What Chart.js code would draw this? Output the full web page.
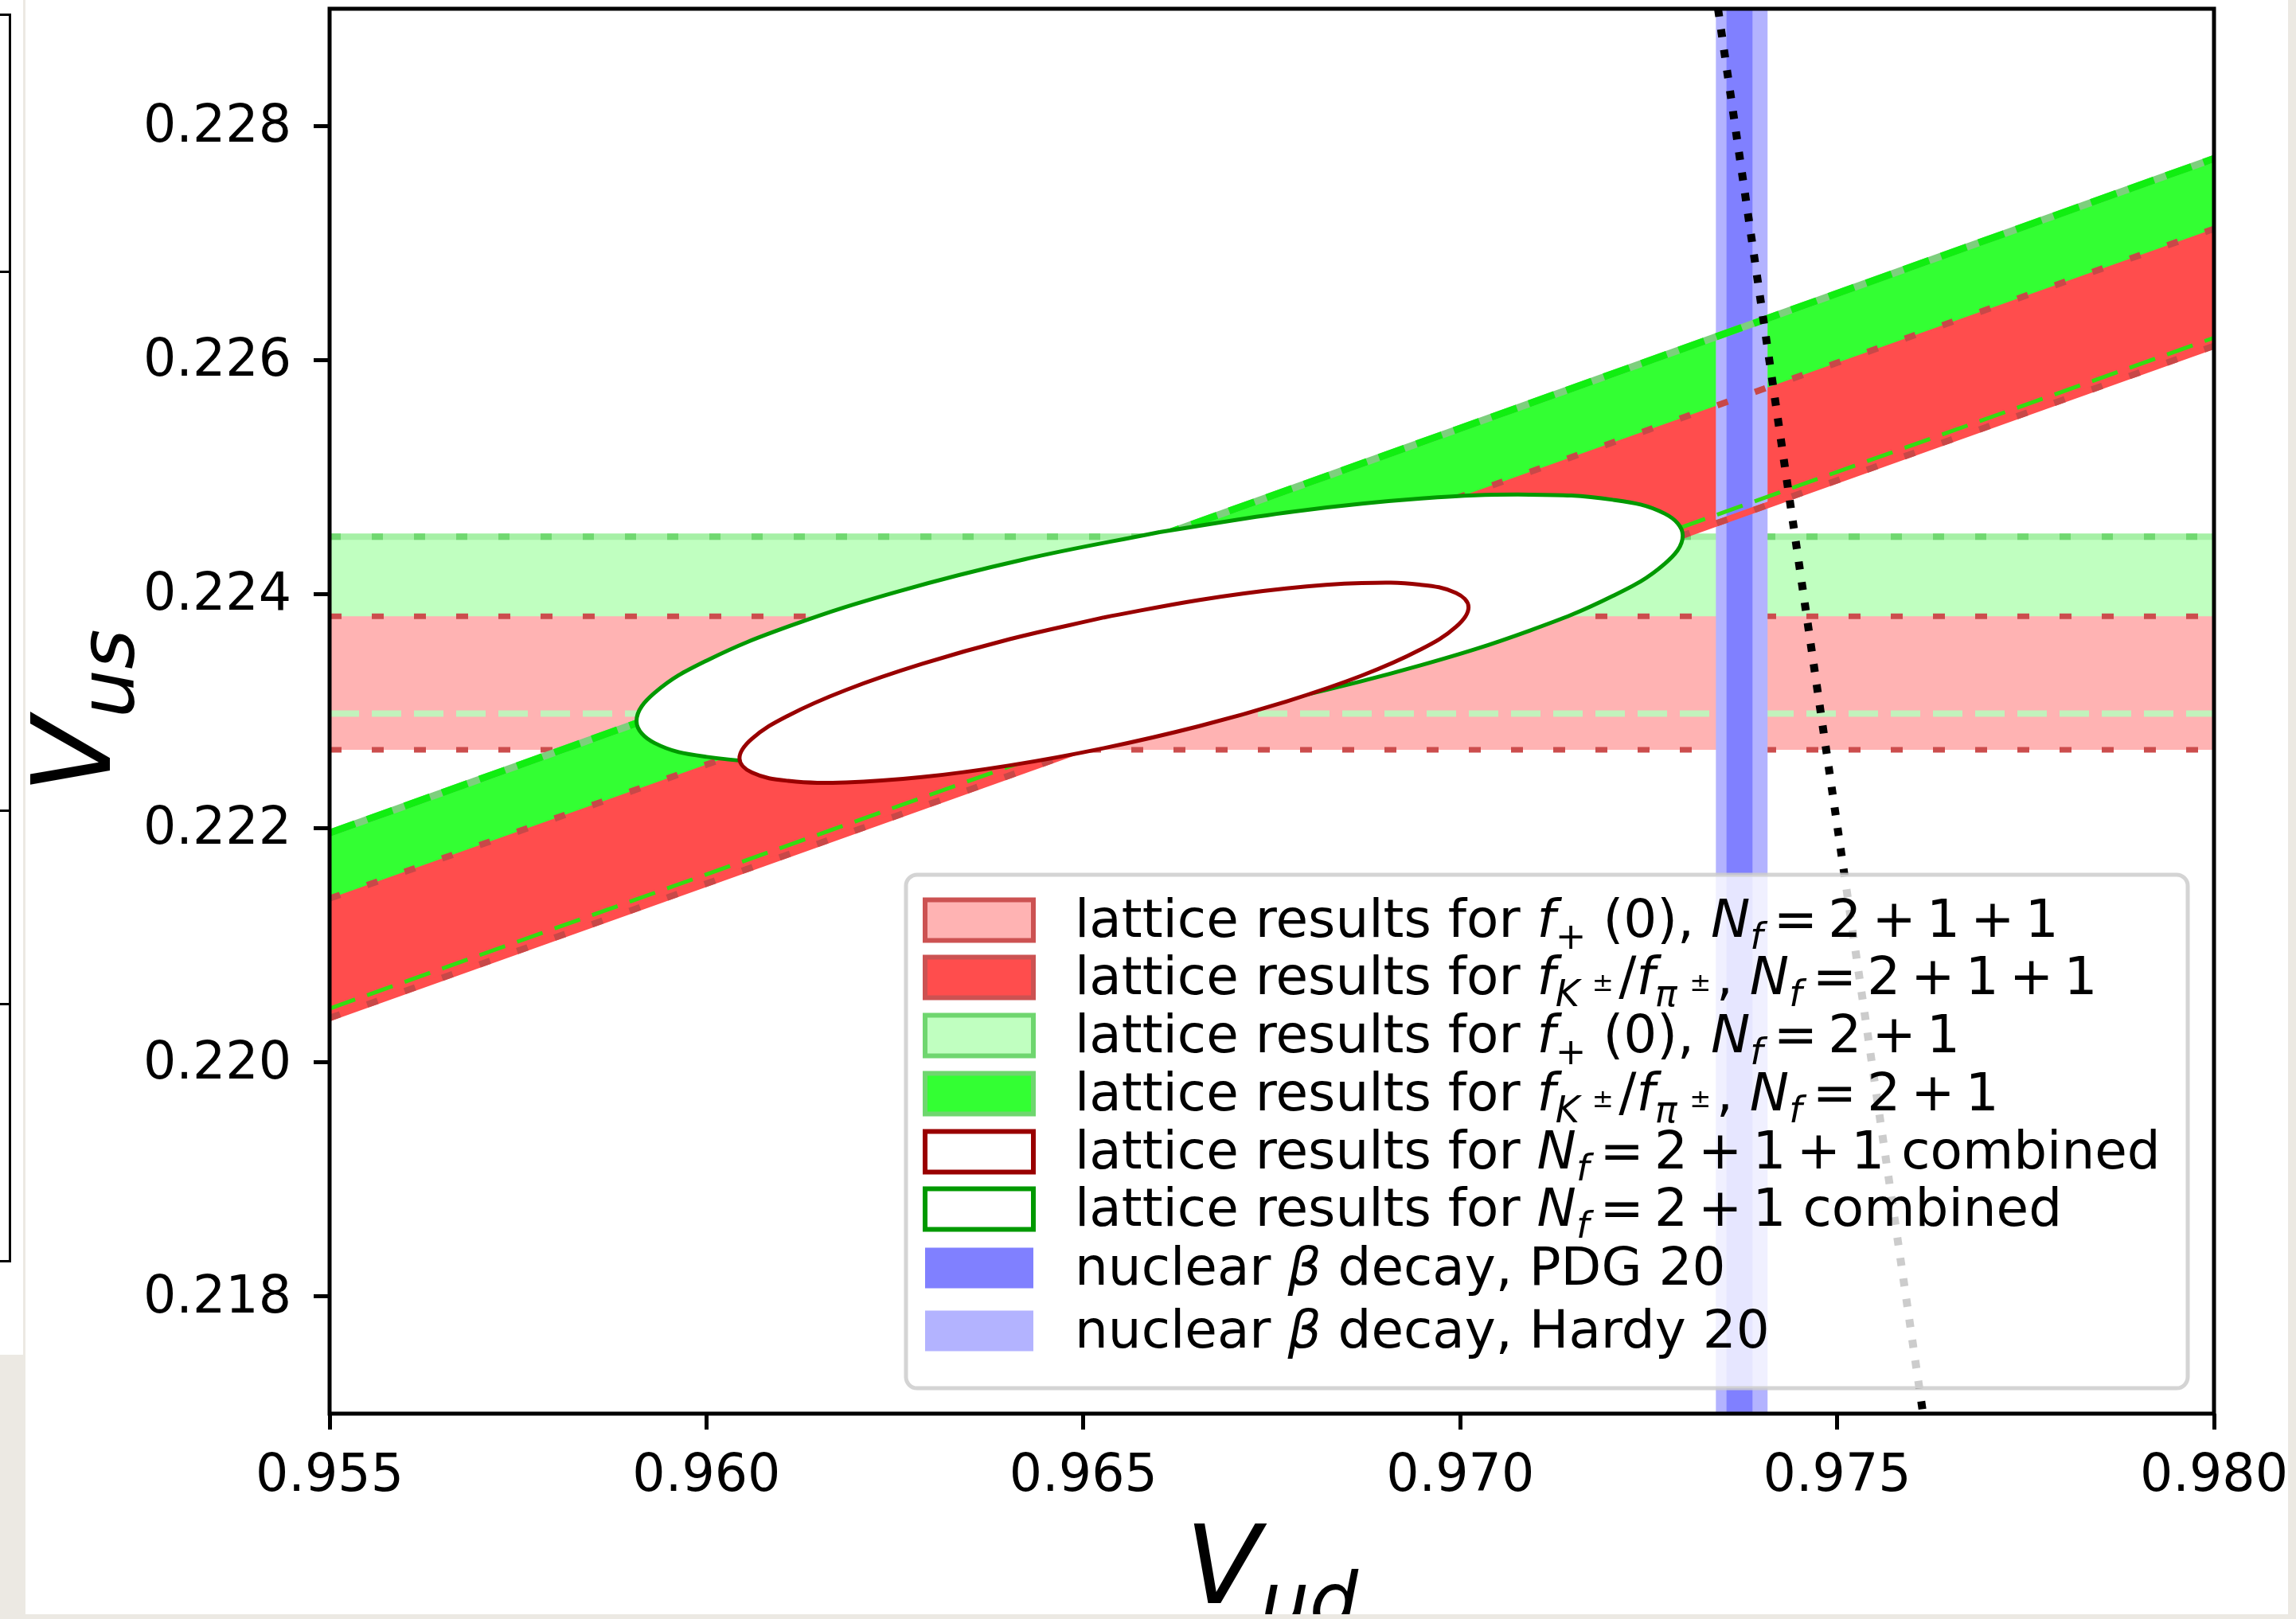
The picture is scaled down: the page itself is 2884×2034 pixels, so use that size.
<!DOCTYPE html>
<html><head><meta charset="utf-8">
<script src="https://cdn.jsdelivr.net/npm/chart.js@4.4.1/dist/chart.umd.min.js"></script>
<style>
html,body{margin:0;padding:0;}
body{width:2884px;height:2034px;background:#ece9e3;position:relative;overflow:hidden;}
#c{position:absolute;left:32px;top:0;background:#fff;}
#side{position:absolute;left:0;top:0;width:29px;height:1702px;background:#fff;}
.ln{position:absolute;background:#000;}
.bg{position:absolute;background:#ece9e3;}
</style></head><body>
<div id="side">
  <div class="ln" style="left:11px;top:17px;width:3px;height:1569px"></div>
  <div class="ln" style="left:0;top:17px;width:14px;height:3px"></div>
  <div class="ln" style="left:0;top:340px;width:14px;height:3px"></div>
  <div class="ln" style="left:0;top:1017px;width:14px;height:3px"></div>
  <div class="ln" style="left:0;top:1260px;width:14px;height:3px"></div>
  <div class="ln" style="left:0;top:1583px;width:14px;height:3px"></div>
</div>
<canvas id="c" width="2852" height="2034" style="width:2852px;height:2034px"></canvas>
<div class="bg" style="left:2874px;top:0;width:10px;height:2034px"></div>
<div class="bg" style="left:0;top:2028px;width:2884px;height:6px"></div>
<script>
// ---------------- data ----------------
const xTicks = [0.955, 0.960, 0.965, 0.970, 0.975, 0.980];
const yTicks = [0.218, 0.220, 0.222, 0.224, 0.226, 0.228];
const vudRange = [0.955, 0.980];
const vusRange = [0.217, 0.229];

// horizontal bands from f+(0): [lower, upper] Vus
const fplus211 = [0.22267, 0.22381];
const fplus21  = [0.22298, 0.22449];

// diagonal bands from fK/fpi: Vus at Vud = 0.955 and 0.980
const fkfpi211Lower = [0.22038, 0.22612];
const fkfpi211Upper = [0.22140, 0.22712];
const fkfpi21Lower  = [0.22046, 0.22619];
const fkfpi21Upper  = [0.22196, 0.22772];

// nuclear beta decay Vud bands [lower, upper]
const pdg20   = [0.97353, 0.97388];
const hardy20 = [0.97339, 0.97408];

// unitarity line end points
const unitVud = [0.97342, 0.97614];
const unitVus = [0.229, 0.217];

// combined Nf=2+1 contour (points read around the outline)
const ell21Vud = [0.966012,0.964216,0.962542,0.961105,0.960002,0.959309,0.959072,0.959309,0.960002,0.961105,0.962542,0.964216,0.966012,0.967808,0.969482,0.970919,0.972022,0.972715,0.972952,0.972715,0.972022,0.970919,0.969482,0.967808,0.966012];
const ell21Vus = [0.224530,0.224297,0.224023,0.223728,0.223432,0.223155,0.222915,0.222729,0.222610,0.222566,0.222599,0.222709,0.222886,0.223119,0.223393,0.223688,0.223984,0.224261,0.224501,0.224687,0.224806,0.224850,0.224817,0.224707,0.224530];
// combined Nf=2+1+1 contour
const ell211Vud = [0.965274,0.964022,0.962856,0.961854,0.961086,0.960603,0.960438,0.960603,0.961086,0.961854,0.962856,0.964022,0.965274,0.966526,0.967692,0.968694,0.969462,0.969945,0.970110,0.969945,0.969462,0.968694,0.967692,0.966526,0.965274];
const ell211Vus = [0.223801,0.223615,0.223403,0.223182,0.222963,0.222764,0.222598,0.222476,0.222405,0.222392,0.222437,0.222537,0.222685,0.222871,0.223083,0.223304,0.223523,0.223722,0.223888,0.224010,0.224081,0.224094,0.224049,0.223949,0.223801];

const legendLabels = [
  'lattice results for $f_{+}$ (0), $N_{f} = 2 + 1 + 1$',
  'lattice results for $f_{K ^{ ± }}/f_{π ^{ ± }}$, $N_{f} = 2 + 1 + 1$',
  'lattice results for $f_{+}$ (0), $N_{f} = 2 + 1$',
  'lattice results for $f_{K ^{ ± }}/f_{π ^{ ± }}$, $N_{f} = 2 + 1$',
  'lattice results for $N_{f} = 2 + 1 + 1$ combined',
  'lattice results for $N_{f} = 2 + 1$ combined',
  'nuclear $β$ decay, PDG 20',
  'nuclear $β$ decay, Hardy 20'
];
const xTitle = '$V_{ud}$';
const yTitle = '$V_{us}$';

// ---------------- styles ----------------
const FONT = 'DejaVu Sans';
const LEGEND_FONT = 66;
const LEGEND_STYLE = [
  {fill:'#ffb3b3', edge:'#cc5252'},
  {fill:'#ff4d4d', edge:'#cc5252'},
  {fill:'#c0ffc0', edge:'#6fd66f'},
  {fill:'#33ff33', edge:'#6fd66f'},
  {fill:'#ffffff', edge:'#990000'},
  {fill:'#ffffff', edge:'#009900'},
  {fill:'#8080ff', edge:null},
  {fill:'#b3b3ff', edge:null}
];
const LEGEND_ROWS = [57, 129, 202, 275, 348, 420, 494, 573];

// ---------------- helpers ----------------
const H = (y) => vudRange.map(x => ({x, y}));
const D = (ys) => vudRange.map((x, i) => ({x, y: ys[i]}));
const V = (xs) => xs.map(x => ({x, y: vusRange[1]}));
const P = (xs, ys) => xs.map((x, i) => ({x, y: ys[i]}));

const datasets = [];
let ord = 200;
function add(cfg) {
  datasets.push(Object.assign({
    pointRadius: 0, pointHoverRadius: 0, pointHitRadius: 0, tension: 0,
    borderWidth: 0, borderColor: 'rgba(0,0,0,0)', backgroundColor: 'rgba(0,0,0,0)',
    fill: false, clip: 0, borderCapStyle: 'butt', order: ord--
  }, cfg));
  return datasets.length - 1;
}
let lo;
// horizontal fills
lo = add({data: H(fplus21[0])});
add({data: H(fplus21[1]), fill: lo, backgroundColor: '#c0ffc0'});
lo = add({data: H(fplus211[0])});
add({data: H(fplus211[1]), fill: lo, backgroundColor: '#ffb3b3'});
// horizontal edges
add({data: H(fplus21[1]), borderWidth: 8, borderColor: '#a6f0a6'});
add({data: H(fplus21[1]), borderWidth: 8, borderColor: '#70d870', borderDash: [14, 39]});
add({data: H(fplus21[0]), borderWidth: 8, borderColor: '#c2f2bc', borderDash: [37, 16]});
add({data: H(fplus211[1]), borderWidth: 7, borderColor: '#cc4d4d', borderDash: [15, 38]});
add({data: H(fplus211[0]), borderWidth: 7, borderColor: '#cc4d4d', borderDash: [15, 38]});
// diagonal fills
lo = add({data: D(fkfpi21Lower)});
add({data: D(fkfpi21Upper), fill: lo, backgroundColor: '#33ff33'});
lo = add({data: D(fkfpi211Lower)});
add({data: D(fkfpi211Upper), fill: lo, backgroundColor: '#ff4d4d'});
// vertical bands
add({data: V(hardy20), fill: 'start', backgroundColor: '#b3b3ff'});
add({data: V(pdg20), fill: 'start', backgroundColor: '#8080ff'});
// diagonal edges
add({data: D(fkfpi211Lower), borderWidth: 8, borderColor: '#ff4d4d'});
add({data: D(fkfpi211Lower), borderWidth: 8, borderColor: '#c84848', borderDash: [14, 36]});
add({data: D(fkfpi21Lower), borderWidth: 5, borderColor: '#33dd11', borderDash: [34, 16]});
add({data: D(fkfpi211Upper), borderWidth: 8, borderColor: '#c84848', borderDash: [14, 36]});
add({data: D(fkfpi21Upper), borderWidth: 9, borderColor: '#7dcf7d'});
add({data: D(fkfpi21Upper), borderWidth: 9, borderColor: '#11ee11', borderDash: [34, 16]});
// combined contours
add({data: P(ell21Vud, ell21Vus), fill: 'shape', backgroundColor: '#ffffff', borderColor: '#009900', borderWidth: 5, tension: 0.4});
add({data: P(ell211Vud, ell211Vus), fill: 'shape', backgroundColor: '#ffffff', borderColor: '#990000', borderWidth: 5, tension: 0.4});
// unitarity
add({data: P(unitVud, unitVus), borderColor: '#000000', borderWidth: 10, borderDash: [10, 16]});

// ---------------- rich text (mathtext-like) ----------------
function richRuns(str, size) {
  const runs = [];
  (function walk(s, sz, dy, math) {
    let i = 0;
    while (i < s.length) {
      const c = s[i];
      if (c === '$') { math = !math; i++; continue; }
      if (math && (c === '_' || c === '^')) {
        let grp, j = i + 1;
        if (s[j] === '{') {
          let depth = 1, k = j + 1;
          while (k < s.length && depth) { if (s[k] === '{') depth++; else if (s[k] === '}') depth--; k++; }
          grp = s.slice(j + 1, k - 1); i = k;
        } else { grp = s[j]; i = j + 1; }
        walk(grp, sz * 0.7, c === '_' ? dy + sz * 0.22 : dy - sz * 0.4, true);
        continue;
      }
      if (math && c === ' ') { runs.push({t: '', gap: sz * 0.2, sz, dy}); i++; continue; }
      const it = math && /[A-Za-z\u0370-\u03ff]/.test(c);
      const last = runs[runs.length - 1];
      if (last && !last.gap && last.it === it && last.sz === sz && last.dy === dy) last.t += c;
      else runs.push({t: c, it, sz, dy});
      i++;
    }
  })(str, size, 0, false);
  return runs;
}
function drawRich(ctx, str, x, y, size, align) {
  const runs = richRuns(str, size);
  let w = 0;
  for (const r of runs) {
    if (r.gap) { r.w = r.gap; w += r.w; continue; }
    ctx.font = (r.it ? 'italic ' : '') + r.sz + 'px "' + FONT + '"';
    r.w = ctx.measureText(r.t).width; w += r.w;
  }
  let cx = align === 'center' ? x - w / 2 : x;
  ctx.textAlign = 'left'; ctx.textBaseline = 'alphabetic'; ctx.fillStyle = '#000';
  for (const r of runs) {
    if (!r.gap) {
      ctx.font = (r.it ? 'italic ' : '') + r.sz + 'px "' + FONT + '"';
      ctx.fillText(r.t, cx, y + r.dy);
    }
    cx += r.w;
  }
}

// ---------------- plugins ----------------
const framePlugin = {
  id: 'frameAndLegend',
  afterDatasetsDraw(chart) {
    const ctx = chart.ctx, a = chart.chartArea;
    ctx.save();
    ctx.strokeStyle = '#000'; ctx.lineWidth = 5;
    ctx.strokeRect(a.left, a.top, a.right - a.left, a.bottom - a.top);
    // legend box
    const bw = 1610, bh = 645;
    const bx = a.right - 33 - bw, by = a.bottom - 32 - bh;
    ctx.beginPath(); ctx.roundRect(bx, by, bw, bh, 14);
    ctx.fillStyle = 'rgba(255,255,255,0.8)'; ctx.fill();
    ctx.lineWidth = 5; ctx.strokeStyle = 'rgba(204,204,204,0.85)'; ctx.stroke();
    legendLabels.forEach((lab, i) => {
      const cy = by + LEGEND_ROWS[i];
      const st = LEGEND_STYLE[i];
      const px = bx + 24, pw = 136, ph = 51;
      ctx.fillStyle = st.fill; ctx.fillRect(px, cy - ph / 2, pw, ph);
      if (st.edge) { ctx.strokeStyle = st.edge; ctx.lineWidth = 6; ctx.strokeRect(px, cy - ph / 2, pw, ph); }
      drawRich(ctx, lab, bx + 212, cy + 21, LEGEND_FONT, 'left');
    });
    ctx.restore();
  },
  afterDraw(chart) {
    const ctx = chart.ctx, a = chart.chartArea;
    ctx.save();
    drawRich(ctx, xTitle, (a.left + a.right) / 2, 2014, 138, 'center');
    ctx.translate(106, (a.top + a.bottom) / 2);
    ctx.rotate(-Math.PI / 2);
    drawRich(ctx, yTitle, 0, 0, 138, 'center');
    ctx.restore();
  }
};

const tickFont = {family: FONT, size: 65};
function zeroPad(s) { s.paddingTop = 0; s.paddingBottom = 0; s.paddingLeft = 0; s.paddingRight = 0; }

new Chart(document.getElementById('c'), {
  type: 'line',
  data: {datasets},
  options: {
    responsive: false, animation: false, devicePixelRatio: 1,
    events: [],
    layout: {padding: {left: 0, right: 103, top: 11, bottom: 0}},
    plugins: {legend: {display: false}, tooltip: {enabled: false}, filler: {drawTime: 'beforeDatasetDraw'}},
    scales: {
      x: {
        type: 'linear', min: vudRange[0], max: vudRange[1], position: 'bottom',
        afterFit(s) { s.height = 258; zeroPad(s); },
        afterBuildTicks(s) { s.ticks = xTicks.map(v => ({value: v})); },
        ticks: {font: tickFont, color: '#000', padding: 21, maxRotation: 0, autoSkip: false, callback: v => Number(v).toFixed(3)},
        grid: {display: true, drawOnChartArea: false, drawTicks: true, tickLength: 20, tickWidth: 5, tickColor: '#000'},
        border: {display: false}
      },
      y: {
        type: 'linear', min: vusRange[0], max: vusRange[1], position: 'left',
        afterFit(s) { s.width = 382; zeroPad(s); },
        afterBuildTicks(s) { s.ticks = yTicks.map(v => ({value: v})); },
        ticks: {font: tickFont, color: '#000', padding: 28, labelOffset: 3, autoSkip: false, callback: v => Number(v).toFixed(3)},
        grid: {display: true, drawOnChartArea: false, drawTicks: true, tickLength: 20, tickWidth: 5, tickColor: '#000'},
        border: {display: false}
      }
    }
  },
  plugins: [framePlugin]
});
</script>
</body></html>
